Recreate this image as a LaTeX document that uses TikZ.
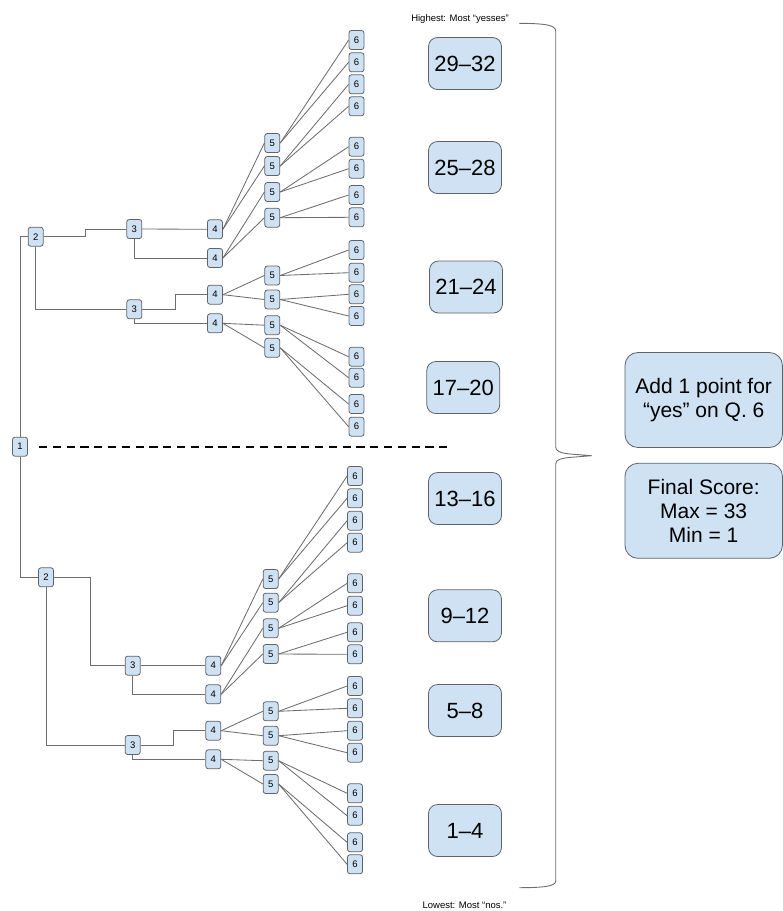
\documentclass[tikz,border=0pt]{standalone}
\usepackage{fontspec}
\setmainfont{Liberation Sans}
\usetikzlibrary{calc}
\definecolor{boxfill}{HTML}{CFE2F3}
\definecolor{boxline}{HTML}{5F6368}
\definecolor{wire}{HTML}{6E6E6E}
\tikzset{
  q/.style={draw=boxline, fill=boxfill, line width=0.8, rounded corners=2.5,
    minimum width=15, minimum height=19, inner sep=0, font=\fontsize{9.5}{10}\selectfont},
  rng/.style={draw=boxline, fill=boxfill, line width=0.8, rounded corners=9,
    minimum width=73, minimum height=52, inner sep=0, font=\fontsize{22}{24}\selectfont},
  side/.style={draw=boxline, fill=boxfill, line width=0.8, rounded corners=13,
    minimum width=157.5, minimum height=95, inner sep=0, align=center,
    font=\fontsize{21}{24}\selectfont},
  wire/.style={draw=wire, line width=0.85},
  note/.style={font=\fontsize{9.5}{10}\selectfont, inner sep=0}
}
\begin{document}
\begin{tikzpicture}[x=1pt,y=-1pt]
\useasboundingbox (0,0) rectangle (783,911);

% ---------- nodes: top half ----------
\node[q] (n1) at (20,446.7) {1};
\node[q] (a2) at (35.7,236.7) {2};
\node[q] (a3a) at (134.3,229) {3};
\node[q] (a3b) at (134.3,309.3) {3};
\node[q] (a4a) at (215,229.3) {4};
\node[q] (a4b) at (215,258) {4};
\node[q] (a4c) at (215,294.7) {4};
\node[q] (a4d) at (215,323.3) {4};
\foreach \n/\y in {1/143,2/166,3/192,4/217.7,5/275.5,6/299.5,7/325.2,8/347.8}
  \node[q] (a5-\n) at (272.3,\y) {5};
\foreach \n/\y in {1/40,2/62.3,3/84.3,4/106.3,5/146.7,6/168.7,7/195,8/217.3,
                   9/250,10/272.7,11/294.3,12/316,13/356.7,14/377.7,15/404,16/426.7}
  \node[q] (a6-\n) at (356.5,\y) {6};

% ---------- nodes: bottom half ----------
\node[q] (b2) at (46,577.3) {2};
\node[q] (b3a) at (132.7,665.7) {3};
\node[q] (b3b) at (132.7,745) {3};
\node[q] (b4a) at (213.3,665.7) {4};
\node[q] (b4b) at (213.3,694.3) {4};
\node[q] (b4c) at (213.3,730.7) {4};
\node[q] (b4d) at (213.3,759.3) {4};
\foreach \n/\y in {1/579,2/602.7,3/628.3,4/654,5/711.3,6/735.7,7/760.7,8/784}
  \node[q] (b5-\n) at (270.7,\y) {5};
\foreach \n/\y in {1/476,2/498.3,3/520.7,4/542.7,5/583.3,6/605.7,7/632.3,8/654.3,
                   9/686,10/708.3,11/730.7,12/752.7,13/793.3,14/815.7,15/842.3,16/864.3}
  \node[q] (b6-\n) at (355,\y) {6};

% ---------- connectors ----------
\draw[wire] (n1.north) |- (a2.west);
\draw[wire] (n1.south) |- (b2.west);

\draw[wire] (a2.east) -| (85,229) -- (a3a.west);
\draw[wire] (a2.south) |- (a3b.west);
\draw[wire] (a3a.east) -- (a4a.west);
\draw[wire] (a3a.south) |- (a4b.west);
\draw[wire] (a3b.east) -| (175,294.7) -- (a4c.west);
\draw[wire] (a3b.south) |- (a4d.west);

\draw[wire] (b2.east) -| (90,665.7) -- (b3a.west);
\draw[wire] (b2.south) |- (b3b.west);
\draw[wire] (b3a.east) -- (b4a.west);
\draw[wire] (b3a.south) |- (b4b.west);
\draw[wire] (b3b.east) -| (173.3,730.7) -- (b4c.west);
\draw[wire] (b3b.south) |- (b4d.west);

\foreach \h in {a,b}{
  \foreach \f/\s in {a/1,a/2,b/3,b/4,c/5,c/6,d/7,d/8}
    \draw[wire] (\h4\f.east) -- (\h5-\s.west);
  \foreach \p/\s/\t in {1/1/2,2/3/4,3/5/6,4/7/8,5/9/10,6/11/12,7/13/14,8/15/16}{
    \draw[wire] (\h5-\p.east) -- (\h6-\s.west);
    \draw[wire] (\h5-\p.east) -- (\h6-\t.west);
  }
}

% ---------- dashed divider ----------
\coordinate (dashend) at (446.7,446.7);
\draw[line width=2.3, dash pattern=on 8.3 off 5.5] ([xshift=11]n1.east) -- (dashend);

% ---------- score ranges ----------
\node[rng] (r1) at (465,63.5) {29–32};
\node[rng] (r2) at (465,167.5) {25–28};
\node[rng] (r3) at (466,287) {21–24};
\node[rng] (r4) at (463.3,387.5) {17–20};
\node[rng] (r5) at (465,498.5) {13–16};
\node[rng] (r6) at (465,615.8) {9–12};
\node[rng] (r7) at (465,710.5) {5–8};
\node[rng] (r8) at (465,830.5) {1–4};

% ---------- brace ----------
\draw[draw=wire, line width=0.9]
  (519.3,23.3) .. controls (545,23.5) and (555.7,25) .. (555.7,31)
  -- (555.7,447) .. controls (555.7,451) and (560,453) .. (570,454)
  -- (591.7,455.7) -- (570,457.4)
  .. controls (560,458.4) and (555.7,460) .. (555.7,464)
  -- (555.7,881) .. controls (555.7,886) and (545,887.7) .. (519.3,887.7);

% ---------- labels ----------
\node[note] (hi) at (460,19) {Highest: Most “yesses”};
\node[note] (lo) at (464.5,905.5) {Lowest: Most “nos.”};

% ---------- side boxes ----------
\node[side] (add) at (703.7,400) {Add 1 point for\\“yes” on Q. 6};
\node[side] (fin) at (703.7,510.8) {Final Score:\\Max = 33\\Min = 1};
\end{tikzpicture}
\end{document}
